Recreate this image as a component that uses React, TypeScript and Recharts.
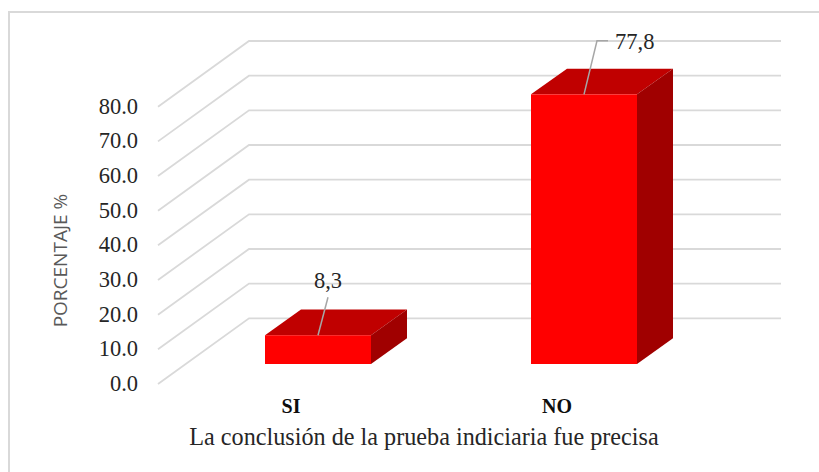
import { Bar, BarChart, CartesianGrid, LabelList, XAxis, YAxis } from "recharts";

const categories = ["SI", "NO"];
const values = [8.3, 77.8];
const yTicks = [0, 10, 20, 30, 40, 50, 60, 70, 80];

const chartData = categories.map((name, i) => ({ name, value: values[i] }));

const SERIF = '"Liberation Serif", "Times New Roman", serif';

// fake 3D, the same way the spreadsheet draws it
const WALL_DX = 91;
const WALL_DY = 65.7;
const BAR_SHIFT_X = 27;
const BAR_SHIFT_Y = 20;
const BAR_DX = 36;
const BAR_DY = 25.7;

function WallLine(props: any) {
  const { x1, x2, y1 } = props;
  const backY = y1 - WALL_DY;
  return (
    <polyline
      points={`${x1},${y1} ${x1 + WALL_DX},${backY} ${x2 + WALL_DX},${backY}`}
      fill="none"
      stroke="#d9d9d9"
      strokeWidth={1.8}
    />
  );
}

function Box3D(props: any) {
  const { x, y, width, height } = props;
  const l = x + BAR_SHIFT_X;
  const r = l + width;
  const t = y - BAR_SHIFT_Y;
  const b = t + height;
  return (
    <g>
      <polygon points={`${l},${t} ${l + BAR_DX},${t - BAR_DY} ${r + BAR_DX},${t - BAR_DY} ${r},${t}`} fill="#c00000" />
      <polygon points={`${r},${t} ${r + BAR_DX},${t - BAR_DY} ${r + BAR_DX},${b - BAR_DY} ${r},${b}`} fill="#a00000" />
      <rect x={l} y={t} width={width} height={height} fill="#ff0000" />
    </g>
  );
}

function BarLabel(props: any) {
  const { x, y, width, value, index } = props;
  const cx = x + BAR_SHIFT_X + width / 2;
  const top = y - BAR_SHIFT_Y;
  const text = String(value).replace(".", ",");
  if (index === 0) {
    return (
      <g>
        <line x1={cx} y1={top} x2={cx + 10} y2={top - 38} stroke="#a6a6a6" strokeWidth={1.5} />
        <text x={cx + 10} y={top - 55} textAnchor="middle" dominantBaseline="central" fontFamily={SERIF} fontSize={22.5} fill="#262626">
          {text}
        </text>
      </g>
    );
  }
  return (
    <g>
      <polyline points={`${cx},${top} ${cx + 13},${top - 53.5} ${cx + 24},${top - 53.5}`} fill="none" stroke="#a6a6a6" strokeWidth={1.5} />
      <text x={cx + 31} y={top - 53} textAnchor="start" dominantBaseline="central" fontFamily={SERIF} fontSize={22.5} fill="#262626">
        {text}
      </text>
    </g>
  );
}

export default function App() {
  return (
    <div style={{ position: "absolute", left: 0, top: 0, width: 819, height: 472, overflow: "hidden", background: "#fff" }}>
      <div style={{ position: "absolute", left: 8, top: 11, width: 900, height: 600, border: "2px solid #d9d9d9" }} />
      <div style={{ position: "absolute", left: 0, top: 0 }}>
        <BarChart
          width={819}
          height={472}
          data={chartData}
          barSize={106}
          margin={{ top: 106.7, right: 129, bottom: 0, left: 0 }}
        >
          <CartesianGrid vertical={false} horizontal={WallLine} />
          <XAxis
            dataKey="name"
            height={88}
            axisLine={false}
            tickLine={false}
            tickSize={0}
            tickMargin={15}
            tick={{ fontFamily: SERIF, fontSize: 20, fontWeight: 700, fill: "#0d0d0d" }}
            label={{
              value: "La conclusión de la prueba indiciaria fue precisa",
              position: "insideBottom",
              offset: 27,
              style: { fontFamily: SERIF, fontSize: 24.2, fill: "#262626" },
            }}
          />
          <YAxis
            domain={[0, 80]}
            ticks={yTicks}
            width={158}
            axisLine={false}
            tickLine={false}
            tickSize={0}
            tickMargin={20}
            tickFormatter={(v: number) => v.toFixed(1)}
            tick={{ fontFamily: SERIF, fontSize: 22.5, fill: "#262626", dy: -1 }}
            label={{
              value: "PORCENTAJE %",
              angle: -90,
              position: "insideLeft",
              offset: 60,
              dy: 82,
              style: { fontFamily: '"Open Sans", sans-serif', fontSize: 19, fill: "#595959" },
            }}
          />
          <Bar dataKey="value" shape={Box3D} isAnimationActive={false}>
            <LabelList dataKey="value" content={BarLabel} />
          </Bar>
        </BarChart>
      </div>
    </div>
  );
}
